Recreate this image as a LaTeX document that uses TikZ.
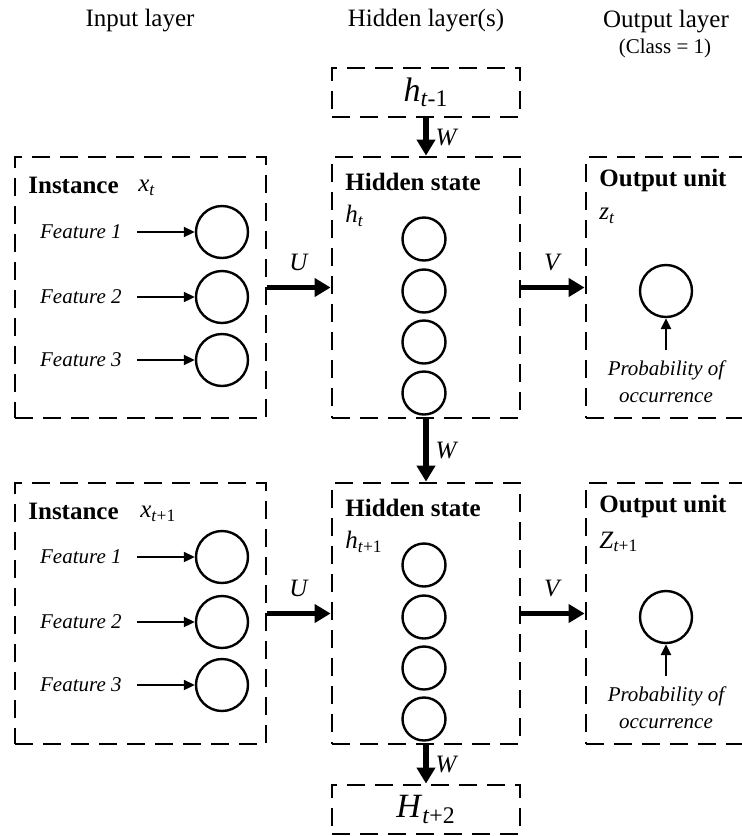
\documentclass[tikz,border=0pt]{standalone}
\usepackage{fontspec}
\setmainfont{Liberation Serif}
\usetikzlibrary{arrows.meta}
\newcommand{\ivar}[2]{\textit{#1}\textsubscript{#2}}
\tikzset{
  dbox/.style={draw, line width=1.4pt, dash pattern=on 9pt off 5pt, inner sep=0pt},
  unit/.style={draw, circle, line width=1.2pt, inner sep=0pt},
  bigarrow/.style={line width=2.6pt, -{Triangle[length=8pt,width=9pt]}},
  smallarrow/.style={line width=1pt, -{Triangle[length=5.5pt,width=5pt]}},
  heading/.style={font=\fontsize{12.5}{15}\selectfont},
  boxtitle/.style={font=\bfseries\fontsize{12.5}{15}\selectfont, anchor=west, inner sep=0pt},
  feat/.style={font=\itshape\fontsize{10.5}{13}\selectfont, anchor=east, inner xsep=7.5pt},
  prob/.style={font=\itshape\fontsize{10.5}{13.5}\selectfont, align=center, anchor=north, inner ysep=5pt},
  lbl/.style={font=\fontsize{12.5}{15}\selectfont, inner sep=0pt},
}
\begin{document}
\begin{tikzpicture}[x=0.5pt, y=-0.5pt]
\useasboundingbox (0,0) rectangle (742,836);
\clip (0,0) rectangle (742,836);

% headings
\node[heading] (hin) at (140,21) {Input layer};
\node[heading] (hhid) at (426,21) {Hidden layer(s)};
\node[heading] (hout) at (666,22) {Output layer};
\node[font=\fontsize{10.5}{12}\selectfont] (hcls) at (665,48) {(Class = 1)};

% previous and next states
\node[dbox, minimum width=94pt, minimum height=24.5pt] (prev) at (426,92.5) {\fontsize{17}{19}\selectfont\ivar{h}{\textit{t}-1}};
\node[dbox, minimum width=94pt, minimum height=24.5pt] (next) at (426,809.5) {\fontsize{17}{19}\selectfont\ivar{H}{\textit{t}+2}};

% time step t
\node[dbox, minimum width=125.5pt, minimum height=130.5pt] (in1) at (140.5,287.5) {};
\node[dbox, minimum width=94pt, minimum height=130.5pt] (hid1) at (426,287.5) {};
\node[dbox, minimum width=87pt, minimum height=130.5pt] (out1) at (673,287.5) {};

\node[boxtitle] (inst1) at (28,185) {Instance};
\node[lbl, anchor=west] (x1) at (138,188) {\ivar{x}{\textit{t}}};
\node[feat] (f11) at (137,232) {Feature 1};
\node[feat] (f12) at (137,297) {Feature 2};
\node[feat] (f13) at (137,360) {Feature 3};
\node[unit, minimum size=26pt] (c11) at (222,232) {};
\node[unit, minimum size=26pt] (c12) at (222,297) {};
\node[unit, minimum size=26pt] (c13) at (222,360) {};
\draw[smallarrow] (f11) -- (c11);
\draw[smallarrow] (f12) -- (c12);
\draw[smallarrow] (f13) -- (c13);

\node[boxtitle] (hs1) at (345,182) {Hidden state};
\node[lbl, anchor=west] (h1) at (345,216) {\ivar{h}{\textit{t}}};
\node[unit, minimum size=21.5pt] (u11) at (424,239) {};
\node[unit, minimum size=21.5pt] (u12) at (424,291) {};
\node[unit, minimum size=21.5pt] (u13) at (424,342) {};
\node[unit, minimum size=21.5pt] (u14) at (424,393) {};

\node[boxtitle] (ou1) at (599,180) {Output unit};
\node[lbl, anchor=west] (z1) at (599,216) {\ivar{z}{\textit{t}}};
\node[unit, minimum size=26pt] (o1) at (666,291) {};
\node[prob] (p1) at (666,350) {Probability of\\occurrence};
\draw[smallarrow, line width=1.3pt] (p1) -- (o1);

% time step t+1
\node[dbox, minimum width=125.5pt, minimum height=130.5pt] (in2) at (140.5,613.5) {};
\node[dbox, minimum width=94pt, minimum height=130.5pt] (hid2) at (426,613.5) {};
\node[dbox, minimum width=87pt, minimum height=130.5pt] (out2) at (673,613.5) {};

\node[boxtitle] (inst2) at (28,511) {Instance};
\node[lbl, anchor=west] (x2) at (140,514) {\ivar{x}{\textit{t}+1}};
\node[feat] (f21) at (137,557) {Feature 1};
\node[feat] (f22) at (137,622) {Feature 2};
\node[feat] (f23) at (137,685) {Feature 3};
\node[unit, minimum size=26pt] (c21) at (222,557) {};
\node[unit, minimum size=26pt] (c22) at (222,622) {};
\node[unit, minimum size=26pt] (c23) at (222,685) {};
\draw[smallarrow] (f21) -- (c21);
\draw[smallarrow] (f22) -- (c22);
\draw[smallarrow] (f23) -- (c23);

\node[boxtitle] (hs2) at (345,508) {Hidden state};
\node[lbl, anchor=west] (h2) at (345,542) {\ivar{h}{\textit{t}+1}};
\node[unit, minimum size=21.5pt] (u21) at (424,565) {};
\node[unit, minimum size=21.5pt] (u22) at (424,617) {};
\node[unit, minimum size=21.5pt] (u23) at (424,668) {};
\node[unit, minimum size=21.5pt] (u24) at (424,719) {};

\node[boxtitle] (ou2) at (599,506) {Output unit};
\node[lbl, anchor=west] (z2) at (599,542) {\ivar{Z}{\textit{t}+1}};
\node[unit, minimum size=26pt] (o2) at (666,617) {};
\node[prob] (p2) at (666,676) {Probability of\\occurrence};
\draw[smallarrow, line width=1.3pt] (p2) -- (o2);

% weights
\draw[bigarrow] (prev) -- node[lbl, right=3.5pt]{\textit{W}} (hid1);
\draw[bigarrow] (hid1) -- node[lbl, right=3.5pt]{\textit{W}} (hid2);
\draw[bigarrow] (hid2) -- node[lbl, right=3.5pt]{\textit{W}} (next);
\draw[bigarrow] (in1) -- node[lbl, above=7pt]{\textit{U}} (hid1);
\draw[bigarrow] (hid1) -- node[lbl, above=7pt]{\textit{V}} (out1);
\draw[bigarrow] (in2) -- node[lbl, above=7pt]{\textit{U}} (hid2);
\draw[bigarrow] (hid2) -- node[lbl, above=7pt]{\textit{V}} (out2);
\end{tikzpicture}
\end{document}
